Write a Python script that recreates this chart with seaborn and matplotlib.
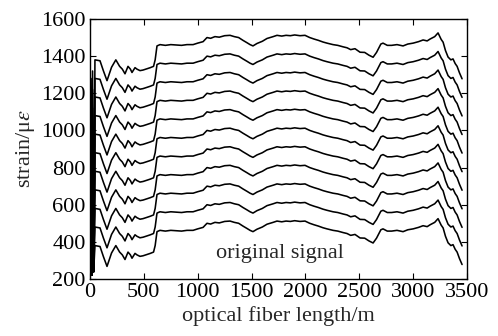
import numpy as np
import pandas as pd
import matplotlib
matplotlib.use("Agg")
import matplotlib.pyplot as plt
import seaborn as sns

# base strain profile of the lowest curve (offset 0)
fiber_x = [46, 93, 125, 158, 200, 240, 275, 300, 325, 353, 375, 390, 418, 436, 464,
           492, 529, 560, 590, 605, 622, 650, 700, 750, 800, 850, 900, 957, 1000,
           1050, 1086, 1120, 1160, 1200, 1250, 1300, 1340, 1380, 1420, 1458, 1486,
           1513, 1550, 1600, 1643, 1700, 1736, 1780, 1820, 1860, 1900, 1950, 1996,
           2040, 2080, 2120, 2163, 2200, 2256, 2300, 2350, 2386, 2420, 2460, 2507,
           2550, 2590, 2628, 2660, 2700, 2720, 2760, 2800, 2850, 2906, 2950, 3000,
           3050, 3092, 3130, 3157, 3200, 3231, 3260, 3278, 3300, 3324, 3350, 3370,
           3390, 3408, 3430, 3454]
base_strain = [380, 375, 320, 268, 340, 380, 345, 330, 305, 345, 330, 312, 338, 330, 322,
               325, 332, 338, 345, 380, 455, 462, 458, 462, 460, 458, 462, 462, 470,
               478, 500, 496, 505, 502, 510, 512, 505, 500, 485, 472, 462,
               455, 468, 480, 495, 505, 512, 508, 512, 510, 514, 510, 512,
               500, 492, 485, 476, 470, 462, 458, 450, 445, 435, 440, 421,
               420, 405, 394, 420, 465, 470, 458, 458, 462, 455, 465, 470,
               478, 487, 482, 492, 505, 525, 490, 475, 430, 395, 380, 385,
               360, 345, 310, 278]

# vertical shift of each of the 11 traces
offsets = [0, 100, 200, 300, 400, 500, 600, 700, 800, 900, 1000]

# start-up spikes at the head of the fibre
spike_x = [0, 8, 16, 24, 34]
spike_low = [200, None, 220, None, 240]
spike_drop = [None, 100, None, 60, None]

rows = []
for k, off in enumerate(offsets):
    lvl = base_strain[0] + off
    for sx, lo, dr in zip(spike_x, spike_low, spike_drop):
        sy = lo if lo is not None else lvl - dr
        rows.append({"x": sx, "strain": sy, "curve": k})
    for fx, fy in zip(fiber_x, base_strain):
        rows.append({"x": fx, "strain": fy + off, "curve": k})
df = pd.DataFrame(rows)

sns.set_style("ticks")
plt.rcParams["font.family"] = ["Liberation Serif", "DejaVu Serif"]
plt.rcParams["mathtext.fontset"] = "stix"
plt.rcParams["xtick.direction"] = "in"
plt.rcParams["ytick.direction"] = "in"

fig = plt.figure(figsize=(4.98, 3.36), dpi=100)
ax = fig.add_axes([0.1807, 0.1696, 0.7571, 0.7739])

sns.lineplot(data=df, x="x", y="strain", units="curve", estimator=None, sort=False,
             color="black", linewidth=1.15, ax=ax, legend=False)

ax.set_xlim(0, 3500)
ax.set_ylim(200, 1600)
ax.set_xticks(np.arange(0, 3501, 500))
ax.set_yticks(np.arange(200, 1601, 200))
ax.tick_params(axis="both", which="both", top=True, right=True, length=4,
               width=0.8, labelsize=16, pad=3, colors="black")
for s in ax.spines.values():
    s.set_color("black")
    s.set_linewidth(1.0)

ax.set_xlabel("optical fiber length/m", fontsize=16, labelpad=3)
ax.set_ylabel(r"strain/μ$\varepsilon$", fontsize=16, labelpad=3)
ax.text(1764, 340, "original signal", fontsize=16, ha="center", va="center")

fig.savefig("out.png", dpi=100)
